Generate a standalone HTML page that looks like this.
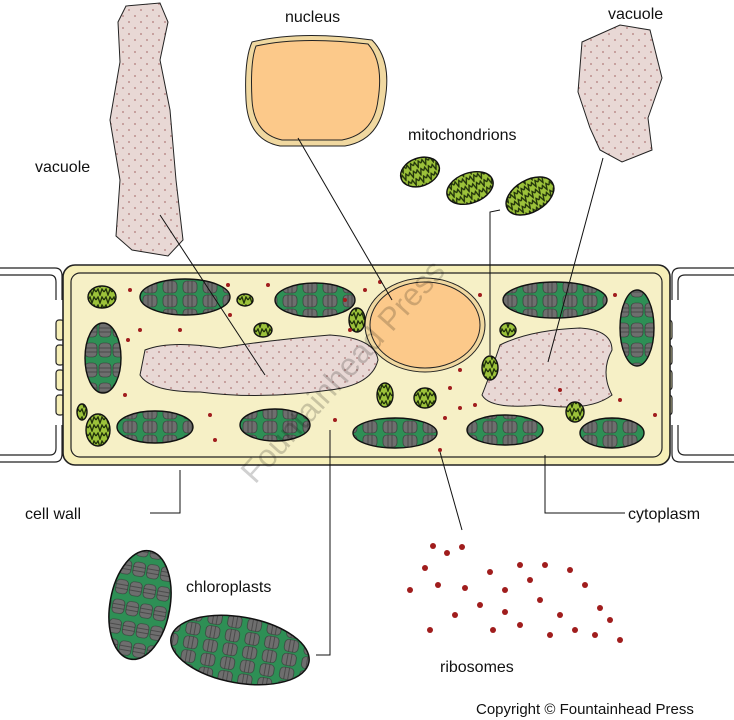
<!DOCTYPE html>
<html><head><meta charset="utf-8"><style>
html,body{margin:0;padding:0;background:#fff;width:734px;height:720px;overflow:hidden}
svg{display:block}
text{font-family:"Liberation Sans",sans-serif;font-size:16px;fill:#111}
</style></head><body>
<svg width="734" height="720" viewBox="0 0 734 720" xmlns="http://www.w3.org/2000/svg">
<defs>
<pattern id="dots" width="12" height="12" patternUnits="userSpaceOnUse">
<rect width="12" height="12" fill="#e8d8d5"/><circle cx="3" cy="4" r="0.9" fill="#b07a78"/><circle cx="9" cy="10" r="0.9" fill="#b07a78"/>
</pattern>
<pattern id="chl" width="14" height="20" patternUnits="userSpaceOnUse">
<rect width="14" height="20" fill="#2e8f55"/><rect x="1" y="3" width="12" height="14" rx="4" fill="#6e6e6e" stroke="#333" stroke-width="0.6"/><line x1="1" y1="8" x2="13" y2="8" stroke="#333" stroke-width="0.6"/><line x1="1" y1="12" x2="13" y2="12" stroke="#333" stroke-width="0.6"/>
</pattern>
<pattern id="chlv" width="20" height="14" patternUnits="userSpaceOnUse">
<rect width="20" height="14" fill="#2e8f55"/><rect x="3" y="1" width="14" height="12" rx="4" fill="#6e6e6e" stroke="#333" stroke-width="0.6"/><line x1="8" y1="1" x2="8" y2="13" stroke="#333" stroke-width="0.6"/><line x1="12" y1="1" x2="12" y2="13" stroke="#333" stroke-width="0.6"/>
</pattern>
<pattern id="mito" width="8" height="8" patternUnits="userSpaceOnUse">
<rect width="8" height="8" fill="#9cc23a"/><path d="M0 4 L2 1 L4 7 L6 1 L8 4" stroke="#1f300a" stroke-width="1.3" fill="none"/>
</pattern>
</defs>

<g fill="none" stroke="#222" stroke-width="1.2">
<path d="M0 268 H55 Q62 268 62 276 V300"/><path d="M0 275 H50 Q56 275 56 282 V300"/>
<path d="M0 462 H55 Q62 462 62 454 V425"/><path d="M0 455 H50 Q56 455 56 448 V425"/>
<path d="M734 268 H680 Q672 268 672 276 V300"/><path d="M734 275 H685 Q678 275 678 282 V300"/>
<path d="M734 462 H680 Q672 462 672 454 V425"/><path d="M734 455 H685 Q678 455 678 448 V425"/>
<rect x="56" y="320" width="8" height="20" rx="3" fill="#f6efb8"/><rect x="56" y="345" width="8" height="20" rx="3" fill="#f6efb8"/><rect x="56" y="370" width="8" height="20" rx="3" fill="#f6efb8"/><rect x="56" y="395" width="8" height="20" rx="3" fill="#f6efb8"/>
<rect x="664" y="320" width="8" height="20" rx="3" fill="#f6efb8"/><rect x="664" y="345" width="8" height="20" rx="3" fill="#f6efb8"/><rect x="664" y="370" width="8" height="20" rx="3" fill="#f6efb8"/><rect x="664" y="395" width="8" height="20" rx="3" fill="#f6efb8"/>
</g>

<rect x="63" y="265" width="607" height="200" rx="12" fill="#f6efb8" stroke="#222" stroke-width="1.6"/>
<rect x="71" y="273" width="591" height="184" rx="9" fill="#f6f0c6" stroke="#222" stroke-width="1.2"/>

<path d="M145 350 Q170 340 220 348 Q270 340 330 335 Q375 338 378 360 Q372 385 330 390 Q260 400 200 392 Q150 392 140 375 Z" fill="url(#dots)" stroke="#222"/>
<path d="M500 345 Q530 330 580 328 Q612 330 612 350 Q600 372 612 395 Q590 412 540 405 Q490 410 482 395 Q490 375 500 345 Z" fill="url(#dots)" stroke="#222"/>
<ellipse cx="425" cy="325" rx="60" ry="47" fill="#f0d8a0" stroke="#222"/>
<ellipse cx="425" cy="325" rx="55" ry="43" fill="#fcc98a" stroke="#222"/>

<g stroke="#111" stroke-width="1.4">
<ellipse cx="185" cy="297" rx="45" ry="18" fill="url(#chlv)"/>
<ellipse cx="315" cy="300" rx="40" ry="17" fill="url(#chlv)"/>
<ellipse cx="555" cy="300" rx="52" ry="18" fill="url(#chlv)"/>
<ellipse cx="103" cy="358" rx="18" ry="35" fill="url(#chl)"/>
<ellipse cx="637" cy="328" rx="17" ry="38" fill="url(#chl)"/>
<ellipse cx="155" cy="427" rx="38" ry="16" fill="url(#chlv)"/>
<ellipse cx="275" cy="425" rx="35" ry="16" fill="url(#chlv)"/>
<ellipse cx="395" cy="433" rx="42" ry="15" fill="url(#chlv)"/>
<ellipse cx="505" cy="430" rx="38" ry="15" fill="url(#chlv)"/>
<ellipse cx="612" cy="433" rx="32" ry="15" fill="url(#chlv)"/>
<ellipse cx="102" cy="297" rx="14" ry="11" fill="url(#mito)"/>
<ellipse cx="98" cy="430" rx="12" ry="16" fill="url(#mito)"/>
<ellipse cx="82" cy="412" rx="5" ry="8" fill="url(#mito)"/>
<ellipse cx="245" cy="300" rx="8" ry="6" fill="url(#mito)"/>
<ellipse cx="263" cy="330" rx="9" ry="7" fill="url(#mito)"/>
<ellipse cx="357" cy="320" rx="8" ry="12" fill="url(#mito)"/>
<ellipse cx="385" cy="395" rx="8" ry="12" fill="url(#mito)"/>
<ellipse cx="425" cy="398" rx="11" ry="10" fill="url(#mito)"/>
<ellipse cx="490" cy="368" rx="8" ry="12" fill="url(#mito)"/>
<ellipse cx="508" cy="330" rx="8" ry="7" fill="url(#mito)"/>
<ellipse cx="575" cy="412" rx="9" ry="10" fill="url(#mito)"/>
</g>
<g fill="#a01d1d">
<circle cx="130" cy="290" r="2"/><circle cx="140" cy="330" r="2"/><circle cx="128" cy="340" r="2"/><circle cx="228" cy="285" r="2"/><circle cx="268" cy="285" r="2"/><circle cx="230" cy="315" r="2"/><circle cx="345" cy="300" r="2"/><circle cx="350" cy="330" r="2"/><circle cx="365" cy="290" r="2"/><circle cx="460" cy="370" r="2"/><circle cx="450" cy="388" r="2"/><circle cx="460" cy="408" r="2"/><circle cx="445" cy="418" r="2"/><circle cx="480" cy="295" r="2"/><circle cx="475" cy="405" r="2"/><circle cx="615" cy="295" r="2"/><circle cx="620" cy="400" r="2"/><circle cx="210" cy="415" r="2"/><circle cx="215" cy="440" r="2"/><circle cx="335" cy="420" r="2"/><circle cx="440" cy="450" r="2"/><circle cx="560" cy="390" r="2"/><circle cx="655" cy="415" r="2"/><circle cx="380" cy="282" r="2"/><circle cx="125" cy="395" r="2"/><circle cx="180" cy="330" r="2"/>
</g>

<path d="M126 6 L160 3 L168 22 L160 60 L170 110 L176 180 L183 240 L168 256 L132 250 L116 236 L120 180 L110 120 L120 62 L118 22 Z" fill="url(#dots)" stroke="#222"/>
<path d="M252 42 Q300 30 372 40 Q392 60 385 100 Q380 140 345 146 L280 146 Q248 140 246 100 Q244 60 252 42 Z" fill="#f0d8a0" stroke="#222"/>
<path d="M256 46 Q300 36 368 44 Q384 62 378 100 Q374 134 342 140 L282 140 Q254 134 252 100 Q250 62 256 46 Z" fill="#fcc98a" stroke="#222"/>
<path d="M582 42 L620 25 L650 30 L662 78 L648 118 L652 150 L622 162 L600 150 L590 128 L578 92 Z" fill="url(#dots)" stroke="#222"/>
<g stroke="#111" stroke-width="1.4">
<ellipse cx="420" cy="172" rx="20" ry="14" fill="url(#mito)" transform="rotate(-20 420 172)"/>
<ellipse cx="470" cy="188" rx="24" ry="15" fill="url(#mito)" transform="rotate(-20 470 188)"/>
<ellipse cx="530" cy="196" rx="26" ry="16" fill="url(#mito)" transform="rotate(-30 530 196)"/>
</g>

<g stroke="#111" stroke-width="1.5">
<ellipse cx="140" cy="605" rx="30" ry="55" fill="url(#chl)" transform="rotate(10 140 605)"/>
<ellipse cx="240" cy="650" rx="70" ry="33" fill="url(#chlv)" transform="rotate(10 240 650)"/>
</g>
<g fill="#a01d1d">
<circle cx="433" cy="546" r="3"/><circle cx="447" cy="553" r="3"/><circle cx="462" cy="547" r="3"/><circle cx="425" cy="568" r="3"/><circle cx="410" cy="590" r="3"/><circle cx="438" cy="585" r="3"/><circle cx="465" cy="588" r="3"/><circle cx="490" cy="572" r="3"/><circle cx="505" cy="590" r="3"/><circle cx="520" cy="565" r="3"/><circle cx="530" cy="580" r="3"/><circle cx="545" cy="565" r="3"/><circle cx="480" cy="605" r="3"/><circle cx="455" cy="615" r="3"/><circle cx="505" cy="612" r="3"/><circle cx="520" cy="625" r="3"/><circle cx="540" cy="600" r="3"/><circle cx="560" cy="615" r="3"/><circle cx="570" cy="570" r="3"/><circle cx="585" cy="585" r="3"/><circle cx="600" cy="608" r="3"/><circle cx="610" cy="620" r="3"/><circle cx="595" cy="635" r="3"/><circle cx="575" cy="630" r="3"/><circle cx="430" cy="630" r="3"/><circle cx="493" cy="630" r="3"/><circle cx="550" cy="635" r="3"/><circle cx="620" cy="640" r="3"/>
</g>

<g stroke="#111" stroke-width="1" fill="none">
<path d="M160 215 L265 375"/>
<path d="M298 138 L392 300"/>
<path d="M500 210 L490 212 L490 355"/>
<path d="M603 158 L548 362"/>
<path d="M180 470 V513 H150"/>
<path d="M330 430 V655 H316"/>
<path d="M440 452 L462 530"/>
<path d="M545 455 V513 H625"/>
</g>

<text x="285" y="22">nucleus</text>
<text x="35" y="172">vacuole</text>
<text x="608" y="19">vacuole</text>
<text x="408" y="140">mitochondrions</text>
<text x="25" y="519">cell wall</text>
<text x="628" y="519">cytoplasm</text>
<text x="186" y="592">chloroplasts</text>
<text x="440" y="672">ribosomes</text>
<text x="476" y="714" style="font-size:15px">Copyright © Fountainhead Press</text>
<text x="0" y="0" transform="translate(255 485) rotate(-48)" style="font-size:32px;fill:#000;opacity:0.18">Fountainhead Press</text>
</svg>
</body></html>
